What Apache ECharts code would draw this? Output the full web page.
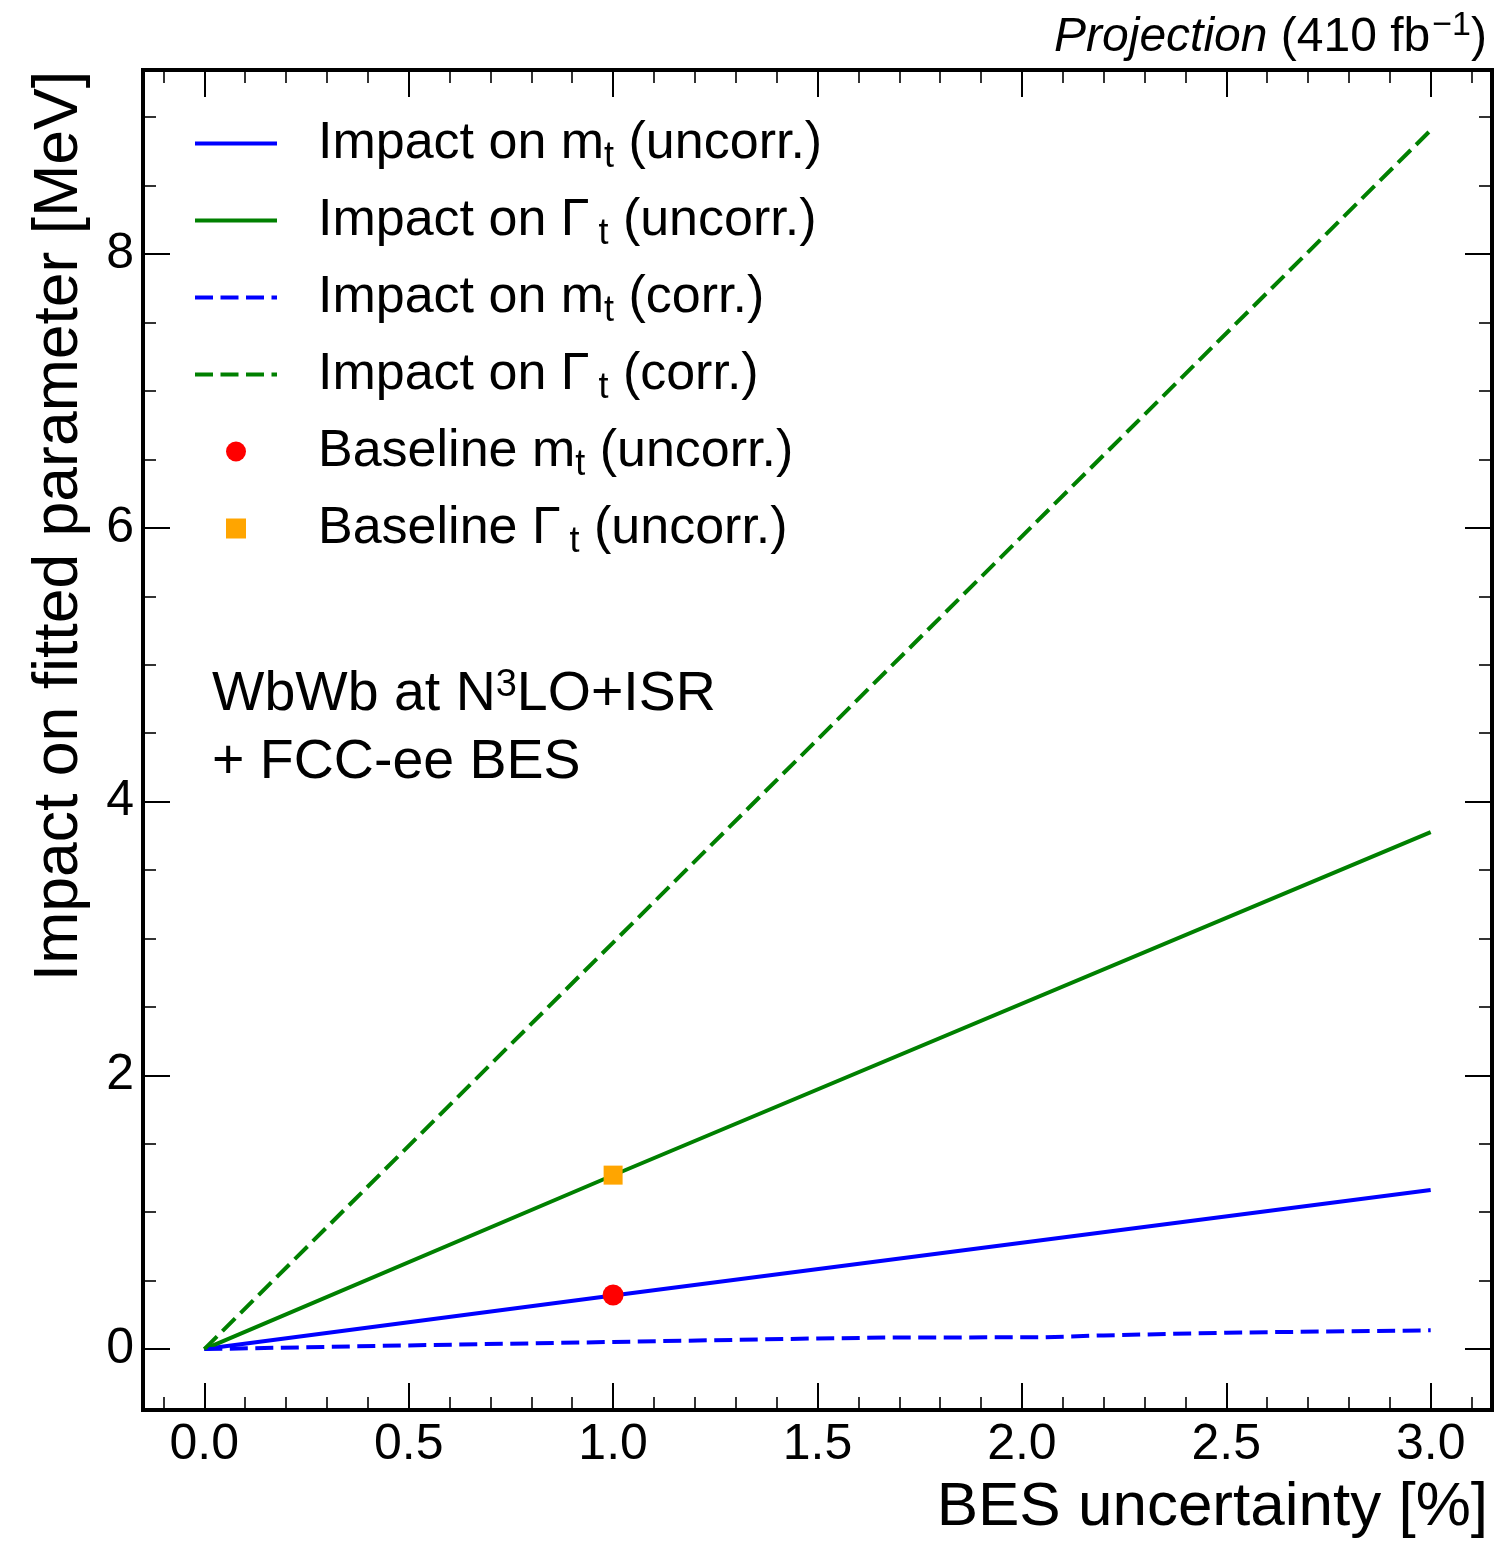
<!DOCTYPE html>
<html>
<head>
<meta charset="utf-8">
<script src="https://cdn.jsdelivr.net/npm/echarts@6/dist/echarts.min.js"></script>
<style>html,body{margin:0;padding:0;background:#fff}#c{width:1501px;height:1544px}</style>
</head>
<body>
<div id="c"></div>
<script>
// ---- data ----
const lineX = [0, 1.0, 3.0];
const mtUncorr = [0, 0.392, 1.162];
const gtUncorr = [0, 1.27, 3.777];
const gtCorr = [0, 2.97, 8.905];
const mtCorrX = [0, 0.5, 1.0, 1.5, 1.7, 2.05, 2.2, 2.5, 3.0];
const mtCorr = [0, 0.027, 0.052, 0.078, 0.085, 0.086, 0.10, 0.12, 0.137];
const baselineX = [1.0];
const baselineMt = [0.395];
const baselineGt = [1.271];
const xMajorTicks = [0, 0.5, 1.0, 1.5, 2.0, 2.5, 3.0];
const xMinorTicks = [-0.1, 0, 0.1, 0.2, 0.3, 0.4, 0.5, 0.6, 0.7, 0.8, 0.9, 1.0, 1.1, 1.2, 1.3, 1.4, 1.5, 1.6, 1.7, 1.8, 1.9, 2.0, 2.1, 2.2, 2.3, 2.4, 2.5, 2.6, 2.7, 2.8, 2.9, 3.0, 3.1];
const yMajorTicks = [0, 2, 4, 6, 8];
const yMinorTicks = [0, 0.5, 1, 1.5, 2, 2.5, 3, 3.5, 4, 4.5, 5, 5.5, 6, 6.5, 7, 7.5, 8, 8.5, 9];
const seriesNames = ['Impact on m_t (uncorr.)', 'Impact on Γ_t (uncorr.)', 'Impact on m_t (corr.)', 'Impact on Γ_t (corr.)', 'Baseline m_t (uncorr.)', 'Baseline Γ_t (uncorr.)'];

const FAM = "'Liberation Sans', Arial, Helvetica, sans-serif";
const X_MIN = -0.15, X_MAX = 3.15, Y_MIN = -0.445, Y_MAX = 9.345;

function zip(xs, ys) { return xs.map((x, i) => [x, ys[i]]); }

function makeAxis(dim, pos, showLabel, ticks, len, w) {
  const isX = dim === 'x';
  return {
    type: 'value', position: pos, gridIndex: 0,
    min: isX ? X_MIN : Y_MIN, max: isX ? X_MAX : Y_MAX,
    axisLine: { show: false, onZero: false }, splitLine: { show: false },
    axisTick: { show: true, inside: true, length: len, customValues: ticks, lineStyle: { color: '#000', width: w } },
    axisLabel: {
      show: showLabel, customValues: ticks, color: '#000', fontFamily: FAM, fontSize: 50, lineHeight: 50,
      margin: isX ? 10 : 9,
      formatter: v => isX ? Number(v).toFixed(1) : String(Math.round(v))
    }
  };
}

const legendRich = {
  a0: { fontFamily: FAM, fontSize: 52, lineHeight: 60, color: '#000', padding: [0, 0, 0, 36], verticalAlign: 'middle' },
  a: { fontFamily: FAM, fontSize: 52, lineHeight: 60, color: '#000', verticalAlign: 'middle' },
  s: { fontFamily: FAM, fontSize: 36, lineHeight: 60, color: '#000', padding: [27, 0, 0, 0], verticalAlign: 'middle' },
  sg: { fontFamily: FAM, fontSize: 36, lineHeight: 60, color: '#000', padding: [27, 0, 0, 9], verticalAlign: 'middle' }
};
function legendLabel(name) {
  const m = name.match(/^(.*?)(m|Γ)_t(.*)$/);
  const pre = m[1], sym = m[2], post = m[3];
  return '{a0|' + pre + sym + '}{' + (sym === 'Γ' ? 'sg' : 's') + '|t}{a|' + post + '}';
}

const chart = echarts.init(document.getElementById('c'), null, { renderer: 'canvas' });
const option = {
  animation: false,
  backgroundColor: '#fff',
  grid: { left: 143, top: 70, width: 1349, height: 1340, show: true, borderColor: '#000', borderWidth: 4, backgroundColor: 'transparent' },
  xAxis: [
    makeAxis('x', 'bottom', true, xMajorTicks, 27, 2),
    makeAxis('x', 'bottom', false, xMinorTicks, 13, 1.6),
    makeAxis('x', 'top', false, xMajorTicks, 27, 2),
    makeAxis('x', 'top', false, xMinorTicks, 13, 1.6)
  ],
  yAxis: [
    makeAxis('y', 'left', true, yMajorTicks, 27, 2),
    makeAxis('y', 'left', false, yMinorTicks, 13, 1.6),
    makeAxis('y', 'right', false, yMajorTicks, 27, 2),
    makeAxis('y', 'right', false, yMinorTicks, 13, 1.6)
  ],
  legend: {
    orient: 'vertical', left: 193, top: 112, padding: 0,
    itemWidth: 82, itemHeight: 20, itemGap: 14, selectedMode: false,
    symbolKeepAspect: true,
    lineStyle: { width: 4 },
    data: [
      { name: seriesNames[0], itemStyle: { opacity: 0 } },
      { name: seriesNames[1], itemStyle: { opacity: 0 } },
      { name: seriesNames[2], itemStyle: { opacity: 0 } },
      { name: seriesNames[3], itemStyle: { opacity: 0 } },
      { name: seriesNames[4], icon: 'circle' },
      { name: seriesNames[5], icon: 'path://M0,0L10,0L10,10L0,10Z' }
    ],
    formatter: legendLabel,
    textStyle: { fontFamily: FAM, fontSize: 52, color: '#000', rich: legendRich }
  },
  series: [
    { name: seriesNames[0], type: 'line', symbol: 'none', data: zip(lineX, mtUncorr), lineStyle: { color: '#0000ff', width: 4 }, itemStyle: { color: '#0000ff' }, z: 3 },
    { name: seriesNames[1], type: 'line', symbol: 'none', data: zip(lineX, gtUncorr), lineStyle: { color: '#008000', width: 4 }, itemStyle: { color: '#008000' }, z: 3 },
    { name: seriesNames[2], type: 'line', symbol: 'none', data: zip(mtCorrX, mtCorr), lineStyle: { color: '#0000ff', width: 4, type: [18, 7.5] }, itemStyle: { color: '#0000ff' }, z: 3 },
    { name: seriesNames[3], type: 'line', symbol: 'none', data: zip(lineX, gtCorr), lineStyle: { color: '#008000', width: 4, type: [18, 7.5] }, itemStyle: { color: '#008000' }, z: 3 },
    { name: seriesNames[4], type: 'scatter', symbol: 'circle', symbolSize: 21, data: zip(baselineX, baselineMt), itemStyle: { color: '#ff0000', opacity: 1 }, z: 5 },
    { name: seriesNames[5], type: 'scatter', symbol: 'rect', symbolSize: 19, symbolKeepAspect: true, data: zip(baselineX, baselineGt), itemStyle: { color: '#ffa500', opacity: 1 }, z: 5 }
  ],
  graphic: [
    {
      type: 'text', x: 1487, y: 38,
      style: {
        text: '{i|Projection}{n| (410 fb}{sup|−1}{n|)}',
        align: 'right', verticalAlign: 'middle',
        rich: {
          i: { font: 'italic 48px ' + FAM, fill: '#000', lineHeight: 48 },
          n: { font: '48px ' + FAM, fill: '#000', lineHeight: 48 },
          sup: { font: '34px ' + FAM, fill: '#000', lineHeight: 48, padding: [0, 0, 24, 2] }
        }
      }
    },
    {
      type: 'text', x: 212, y: 661,
      style: {
        text: '{a|WbWb at N}{sup|3}{a|LO+ISR}\n{a|+ FCC-ee BES}',
        align: 'left', verticalAlign: 'top',
        rich: {
          a: { font: '55.5px ' + FAM, fill: '#000', lineHeight: 68 },
          sup: { font: '38px ' + FAM, fill: '#000', lineHeight: 68, padding: [0, 0, 18, 0] }
        }
      }
    },
    {
      type: 'text', x: 1488, y: 1508,
      style: { text: 'BES uncertainty [%]', font: '62px ' + FAM, fill: '#000', align: 'right', verticalAlign: 'middle' }
    },
    {
      type: 'text', x: 60, y: 71, rotation: Math.PI / 2,
      style: { text: 'Impact on fitted parameter [MeV]', font: '62.5px ' + FAM, fill: '#000', align: 'right', verticalAlign: 'middle' }
    }
  ]
};
chart.setOption(option);
</script>
</body>
</html>
